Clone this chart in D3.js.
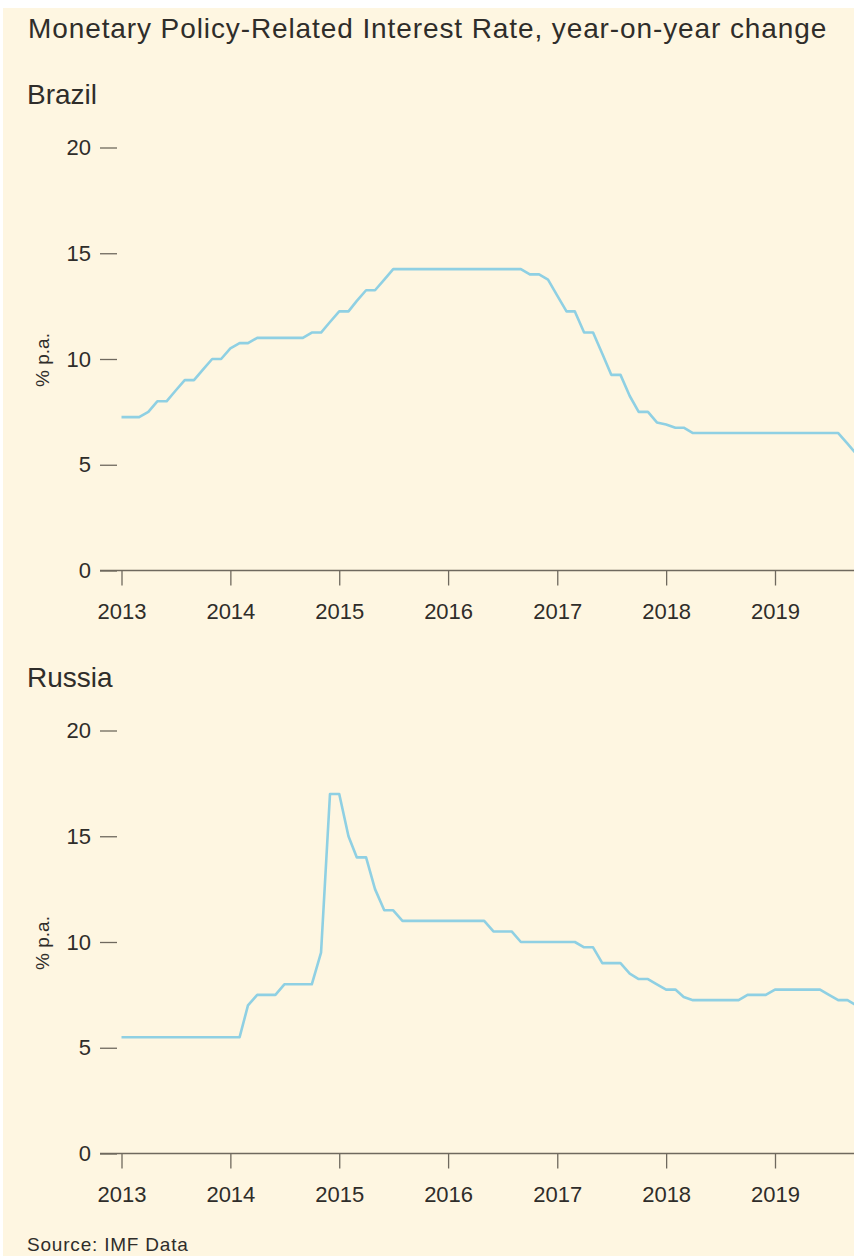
<!DOCTYPE html>
<html><head><meta charset="utf-8">
<script src="https://cdn.jsdelivr.net/npm/d3@7"></script>
<style>
html,body{margin:0;padding:0;background:#ffffff;}
svg{display:block;font-family:"Liberation Sans",Arial,Helvetica,sans-serif;}
</style></head><body>
<svg id="chart" width="854" height="1256"></svg>
<script>
// ---- data ----
const chartTitle = "Monetary Policy-Related Interest Rate, year-on-year change";
const sourceText = "Source: IMF Data";
const yAxisLabel = "% p.a.";
const firstMonth = "2013-01";
// monthly values, Jan 2013 – Oct 2019
const brazilRates = [
  7.25,7.25,7.25,7.5,8,8,8.5,9,9,9.5,10,10,
  10.5,10.75,10.75,11,11,11,11,11,11,11.25,11.25,11.75,
  12.25,12.25,12.75,13.25,13.25,13.75,14.25,14.25,14.25,14.25,14.25,14.25,
  14.25,14.25,14.25,14.25,14.25,14.25,14.25,14.25,14.25,14,14,13.75,
  13,12.25,12.25,11.25,11.25,10.25,9.25,9.25,8.25,7.5,7.5,7,
  6.9,6.75,6.75,6.5,6.5,6.5,6.5,6.5,6.5,6.5,6.5,6.5,
  6.5,6.5,6.5,6.5,6.5,6.5,6.5,6.5,6,5.5
];
const russiaRates = [
  5.5,5.5,5.5,5.5,5.5,5.5,5.5,5.5,5.5,5.5,5.5,5.5,
  5.5,5.5,7,7.5,7.5,7.5,8,8,8,8,9.5,17,
  17,15,14,14,12.5,11.5,11.5,11,11,11,11,11,
  11,11,11,11,11,10.5,10.5,10.5,10,10,10,10,
  10,10,10,9.75,9.75,9,9,9,8.5,8.25,8.25,8,
  7.75,7.75,7.4,7.25,7.25,7.25,7.25,7.25,7.25,7.5,7.5,7.5,
  7.75,7.75,7.75,7.75,7.75,7.75,7.5,7.25,7.25,7
];
const countries = ["Brazil", "Russia"];
const yearTicks = [2013, 2014, 2015, 2016, 2017, 2018, 2019];
const rateTicks = [0, 5, 10, 15, 20];

// ---- layout / style ----
const W = 854, H = 1256;
const bg = "#fef6e1";
const lineColor = "#8fd0e3";
const axisColor = "#6f695e";
const textColor = "#2f2d2a";
const panelOffset = 583;

const svg = d3.select("#chart");
svg.append("rect").attr("x", 3).attr("y", 8).attr("width", W - 3).attr("height", H - 8).attr("fill", bg);

svg.append("text").attr("x", 28).attr("y", 38)
  .attr("font-size", 28).attr("letter-spacing", 0.9).attr("fill", textColor)
  .text(chartTitle);

const parseMonth = d3.timeParse("%Y-%m");
const start = parseMonth(firstMonth);
const x = d3.scaleTime()
  .domain([new Date(yearTicks[0], 0, 1), new Date(yearTicks[yearTicks.length - 1], 0, 1)])
  .range([121.5, 775]);

const series = [brazilRates, russiaRates];

countries.forEach((name, i) => {
  const off = i * panelOffset;
  const g = svg.append("g").attr("transform", `translate(0,${off})`);
  const y = d3.scaleLinear().domain([0, 20]).range([570.5, 147.5]);
  const data = series[i].map((v, k) => ({ date: d3.timeMonth.offset(start, k), value: v }));

  g.append("text").attr("x", 27).attr("y", 104)
    .attr("font-size", 28).attr("fill", textColor).text(name);

  // y axis
  const ya = g.append("g").attr("transform", "translate(117,0)")
    .call(d3.axisLeft(y).tickValues(rateTicks).tickSize(17).tickPadding(9).tickFormat(d3.format("d")));
  ya.select(".domain").remove();
  ya.selectAll(".tick line").attr("stroke", axisColor).attr("stroke-width", 1.3);
  ya.selectAll(".tick text").attr("font-size", 22).attr("fill", textColor)
    .attr("font-family", "Liberation Sans, Arial, sans-serif");

  // x axis
  const xa = g.append("g").attr("transform", `translate(0,${y(0)})`)
    .call(d3.axisBottom(x).tickValues(yearTicks.map(yr => new Date(yr, 0, 1)))
      .tickFormat(d3.timeFormat("%Y")).tickSize(15).tickPadding(17.5));
  xa.select(".domain").remove();
  xa.selectAll(".tick line").attr("stroke", axisColor).attr("stroke-width", 1.3);
  xa.selectAll(".tick text").attr("font-size", 22).attr("fill", textColor)
    .attr("font-family", "Liberation Sans, Arial, sans-serif");
  g.append("line").attr("x1", 100).attr("x2", W).attr("y1", y(0)).attr("y2", y(0))
    .attr("stroke", axisColor).attr("stroke-width", 1.6);

  // y label
  g.append("text").attr("transform", "translate(42,360) rotate(-90)")
    .attr("text-anchor", "middle").attr("dominant-baseline", "central")
    .attr("font-size", 19).attr("fill", textColor).text(yAxisLabel);

  // line
  const line = d3.line().x(d => x(d.date)).y(d => y(d.value));
  g.append("path").datum(data).attr("d", line)
    .attr("fill", "none").attr("stroke", lineColor).attr("stroke-width", 2.6)
    .attr("stroke-linejoin", "round");
});

svg.append("text").attr("x", 27).attr("y", 1251)
  .attr("font-size", 19).attr("letter-spacing", 0.8).attr("fill", textColor)
  .text(sourceText);
</script>
</body></html>
